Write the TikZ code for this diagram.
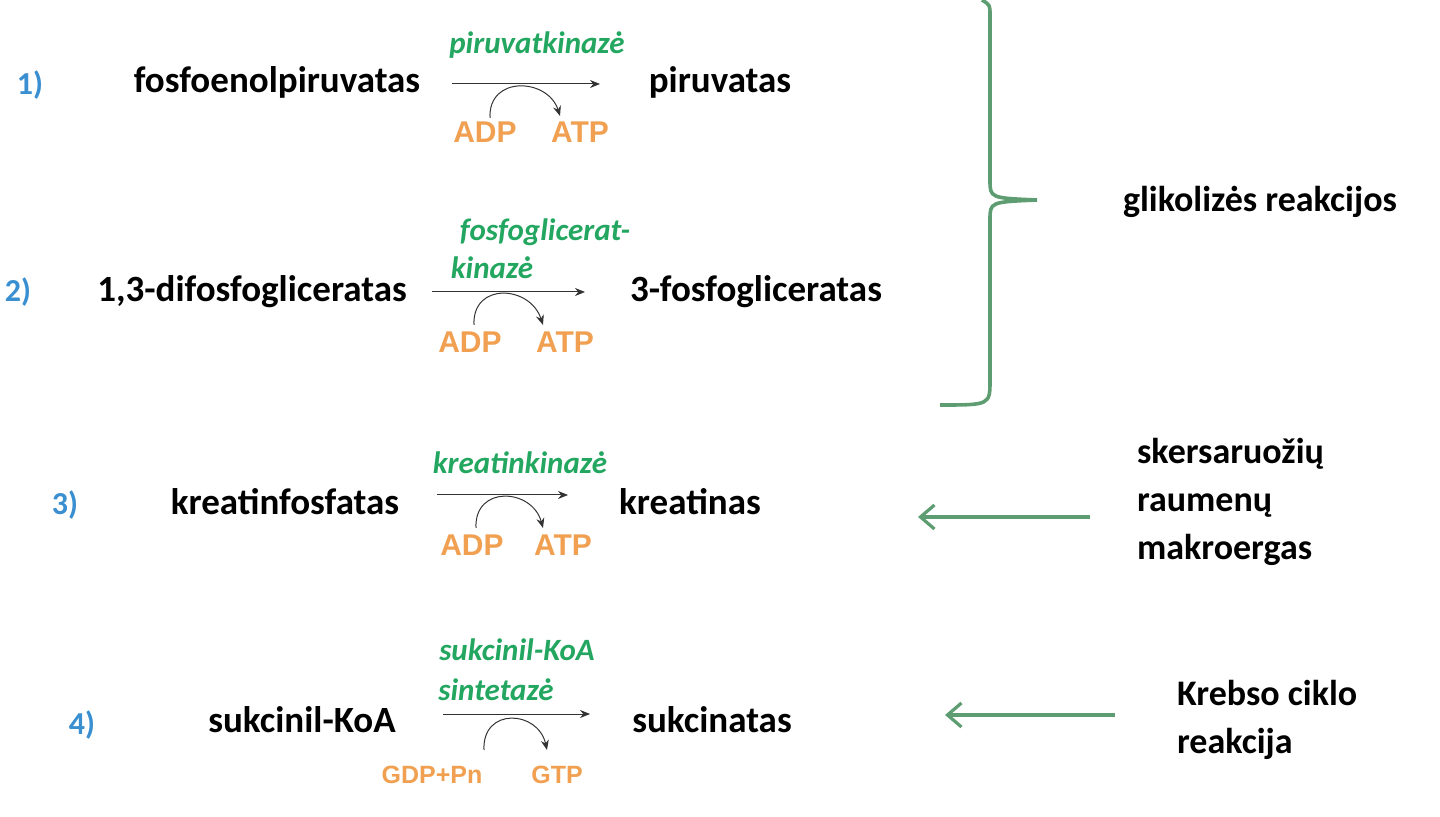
\documentclass[tikz,border=0pt]{standalone}
\usepackage{fontspec}
\setmainfont{Carlito}
\newfontfamily\lab{Liberation Sans}
\usetikzlibrary{arrows.meta}
\definecolor{cblue}{HTML}{3A8FD0}
\definecolor{cgreen}{HTML}{22A660}
\definecolor{corange}{HTML}{F0A050}
\definecolor{cbrace}{HTML}{5E9C72}
\begin{document}
\begin{tikzpicture}[x=0.5pt,y=-0.5pt,
 num/.style={text=cblue,font=\fontsize{16}{18}\selectfont\bfseries},
 chem/.style={font=\fontsize{18.5}{20}\selectfont\bfseries},
 enz/.style={text=cgreen,font=\fontsize{15.5}{17}\selectfont\bfseries\itshape},
 cof/.style={text=corange,font=\fontsize{15}{16}\selectfont\lab\bfseries},
 cofs/.style={text=corange,font=\fontsize{12.5}{14}\selectfont\lab\bfseries},
 note/.style={font=\fontsize{18}{24}\selectfont\bfseries,align=left,anchor=west},
 rx/.style={-{Stealth[length=5pt,width=4pt]},line width=0.5pt,black!80},
 cv/.style={-{Stealth[length=5pt,width=4pt]},line width=0.5pt,black!80},
 gar/.style={-{Straight Barb[length=7pt,width=12pt]},line width=1.6pt,cbrace}]
\useasboundingbox (0,0) rectangle (1440,817);
% row 1
\node[num] (n1) at (30,85) {1)};
\node[chem] (a1) at (277,82) {fosfoenolpiruvatas};
\node[chem] (b1) at (720,82) {piruvatas};
\coordinate (s1) at (452,84); \coordinate (e1) at (600,84);
\draw[rx] (s1) -- (e1);
\node[enz] (z1) at (537,45) {piruvatkinazė};
\node[cof] (c1) at (485,132) {ADP};
\node[cof] (d1) at (580,132) {ATP};
\draw[cv] (490,118) coordinate (p1) .. controls (488,75) and (548,78) .. (560,116) coordinate (q1);
% row 2
\node[num] (n2) at (18,292) {2)};
\node[chem] (a2) at (252,292) {1,3-difosfogliceratas};
\node[chem] (b2) at (756,292) {3-fosfogliceratas};
\coordinate (s2) at (432,292); \coordinate (e2) at (585,292);
\draw[rx] (s2) -- (e2);
\node[enz] (z2) at (545,232) {fosfoglicerat-};
\node[enz] (y2) at (492,268) {kinazė};
\node[cof] (c2) at (470,342) {ADP};
\node[cof] (d2) at (565,342) {ATP};
\draw[cv] (474,325) coordinate (p2) .. controls (472,282) and (530,285) .. (543,325) coordinate (q2);
% brace
\draw[cbrace,line width=1.8pt] (940,405) .. controls (990,405) .. (990,380) -- (990,220) .. controls (990,202) .. (1037,200)
  (1037,200) .. controls (990,198) .. (990,180) -- (990,15) .. controls (990,5) .. (982,0);
\node[note,anchor=center] (g) at (1260,202) {glikolizės reakcijos};
% row 3
\node[num] (n3) at (65,505) {3)};
\node[chem] (a3) at (285,502) {kreatinfosfatas};
\node[chem] (b3) at (690,502) {kreatinas};
\coordinate (s3) at (437,495); \coordinate (e3) at (568,495);
\draw[rx] (s3) -- (e3);
\node[enz] (z3) at (520,463) {kreatinkinazė};
\node[cof] (c3) at (472,545) {ADP};
\node[cof] (d3) at (563,545) {ATP};
\draw[cv] (476,528) coordinate (p3) .. controls (474,485) and (532,488) .. (543,528) coordinate (q3);
\coordinate (t3) at (1090,517); \coordinate (h3) at (918,517);
\draw[gar] (t3) -- (h3);
\node[note] (m3) at (1130,502) {skersaruožių\\raumenų\\makroergas};
% row 4
\node[num] (n4) at (82,725) {4)};
\node[chem] (a4) at (302,720) {sukcinil-KoA};
\node[chem] (b4) at (712,720) {sukcinatas};
\coordinate (s4) at (443,714); \coordinate (e4) at (590,714);
\draw[rx] (s4) -- (e4);
\node[enz] (z4) at (517,650) {sukcinil-KoA};
\node[enz] (y4) at (496,690) {sintetazė};
\node[cofs] (c4) at (432,775) {GDP+Pn};
\node[cofs] (d4) at (557,775) {GTP};
\draw[cv] (484,750) coordinate (p4) .. controls (482,707) and (538,710) .. (547,750) coordinate (q4);
\coordinate (t4) at (1115,715); \coordinate (h4) at (945,715);
\draw[gar] (t4) -- (h4);
\node[note] (m4) at (1170,720) {Krebso ciklo\\reakcija};
\end{tikzpicture}
\end{document}
